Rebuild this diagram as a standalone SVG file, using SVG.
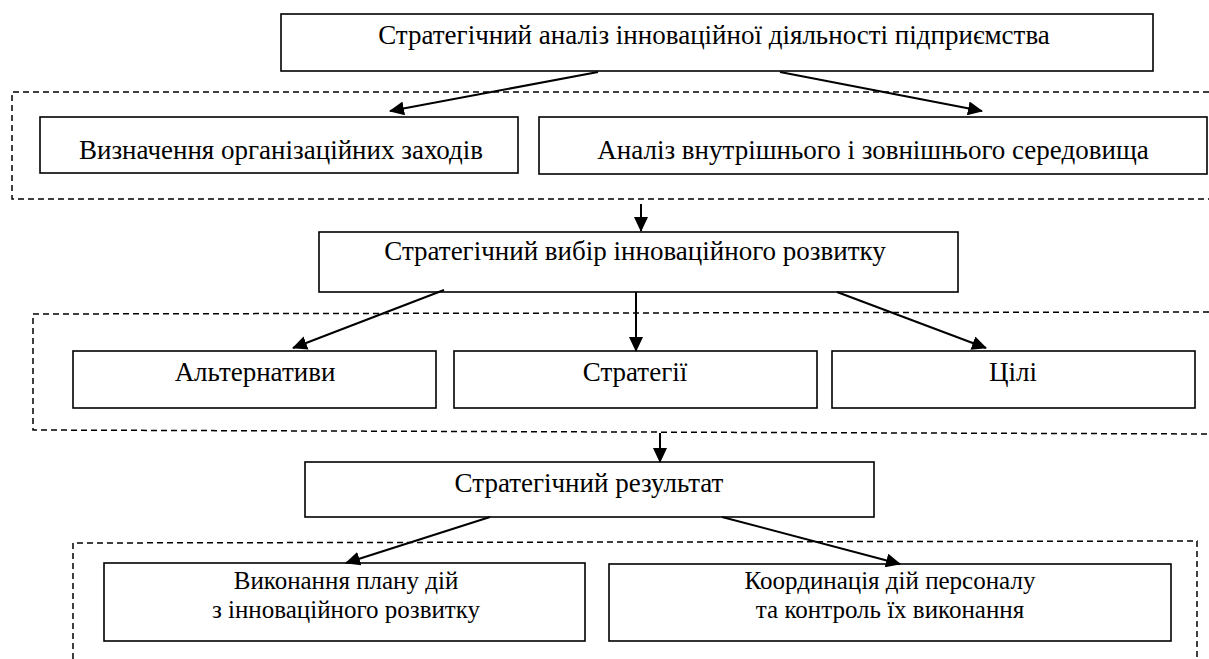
<svg xmlns="http://www.w3.org/2000/svg" width="1209" height="659" viewBox="0 0 1209 659">
<defs>
<style>
.box{fill:#fff;stroke:#000;stroke-width:1.6}
.dash{fill:none;stroke:#000;stroke-width:1.5;stroke-dasharray:6,4}
.t{font-family:"Liberation Serif","Times New Roman",serif;font-size:27px;fill:#000;text-anchor:middle}
.t2{font-size:25px}
.c{fill:none;stroke:#000;stroke-width:2}
</style>
<marker id="ah" viewBox="0 0 15 14" refX="14" refY="7" markerWidth="15" markerHeight="14" markerUnits="userSpaceOnUse" orient="auto">
<path d="M0,0 L15,7 L0,14 z" fill="#000"/>
</marker>
</defs>
<g id="groups">
<path class="dash" d="M1209,92 L12,92 L12,199 L1209,199"/>
<path class="dash" d="M1209,312 L33,314 L33,430 L1209,434"/>
<path class="dash" d="M73,659 L73,543 L1197,541 L1197,659"/>
</g>
<g id="n1"><rect class="box" x="281" y="14" width="872" height="57"/><text class="t" x="714" y="44">Стратегічний аналіз інноваційної діяльності підприємства</text></g>
<g id="n2"><rect class="box" x="40" y="117" width="478" height="56"/><text class="t" x="281" y="159">Визначення організаційних заходів</text></g>
<g id="n3"><rect class="box" x="539" y="117" width="668" height="57"/><text class="t" x="873" y="159">Аналіз внутрішнього і зовнішнього середовища</text></g>
<g id="n4"><rect class="box" x="319" y="232" width="639" height="60"/><text class="t" x="635" y="260">Стратегічний вибір інноваційного розвитку</text></g>
<g id="n5"><rect class="box" x="73" y="351" width="363" height="57"/><text class="t" x="255" y="381">Альтернативи</text></g>
<g id="n6"><rect class="box" x="454" y="351" width="363" height="57"/><text class="t" x="635" y="381">Стратегії</text></g>
<g id="n7"><rect class="box" x="832" y="351" width="363" height="57"/><text class="t" x="1013" y="381">Цілі</text></g>
<g id="n8"><rect class="box" x="305" y="462" width="569" height="55"/><text class="t" x="589" y="492">Стратегічний результат</text></g>
<g id="n9"><rect class="box" x="104" y="563" width="481" height="78"/><text class="t t2" x="346" y="589">Виконання плану дій</text><text class="t t2" x="346" y="618">з інноваційного розвитку</text></g>
<g id="n10"><rect class="box" x="609" y="564" width="562" height="77"/><text class="t t2" x="890" y="589">Координація дій персоналу</text><text class="t t2" x="890" y="618">та контроль їх виконання</text></g>
<g id="connectors">
<line class="c" marker-end="url(#ah)" x1="598" y1="72" x2="390" y2="111"/>
<line class="c" marker-end="url(#ah)" x1="780" y1="72" x2="982" y2="111"/>
<line class="c" marker-end="url(#ah)" x1="641" y1="204" x2="641" y2="231"/>
<line class="c" marker-end="url(#ah)" x1="444" y1="290" x2="293" y2="348"/>
<line class="c" marker-end="url(#ah)" x1="636" y1="292" x2="636" y2="351"/>
<line class="c" marker-end="url(#ah)" x1="837" y1="292" x2="986" y2="348"/>
<line class="c" marker-end="url(#ah)" x1="660" y1="433" x2="660" y2="462"/>
<line class="c" marker-end="url(#ah)" x1="490" y1="517" x2="346" y2="563"/>
<line class="c" marker-end="url(#ah)" x1="722" y1="517" x2="900" y2="564"/>
</g>
</svg>
